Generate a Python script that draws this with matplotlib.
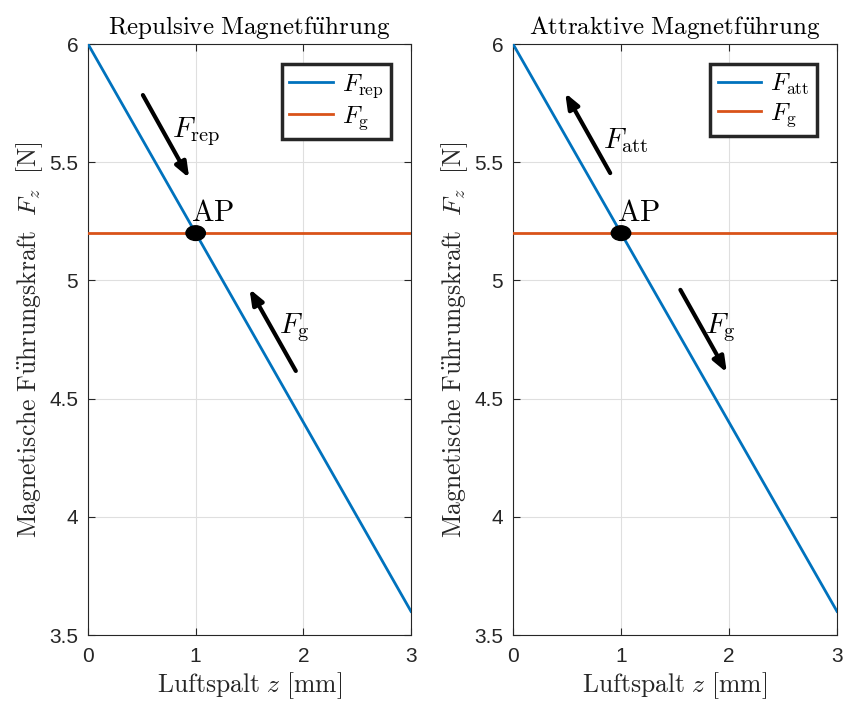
import matplotlib
matplotlib.use("Agg")
import matplotlib.pyplot as plt
from matplotlib.patches import Ellipse

plt.rcParams['mathtext.fontset'] = 'cm'
plt.rcParams['font.family'] = ['Liberation Sans', 'DejaVu Sans']

# Data
z = [0.0, 3.0]
F_rep = [6.0, 3.6]
F_att = [6.0, 3.6]
F_g = [5.2, 5.2]
ap_z, ap_F = 1.0, 5.2
xticks = [0, 1, 2, 3]
yticks = [3.5, 4, 4.5, 5, 5.5, 6]
yticklabels = ['3.5', '4', '4.5', '5', '5.5', '6']

titles = [r'$\mathrm{Repulsive\ Magnetf\ddot{u}hrung}$',
          r'$\mathrm{Attraktive\ Magnetf\ddot{u}hrung}$']
labels_main = [r'$F_\mathrm{rep}$', r'$F_\mathrm{att}$']
labels_g = r'$F_\mathrm{g}$'

# arrows: (tail, head), label position
arrows = [
    [((0.51, 5.784), (0.94, 5.433)), ((1.93, 4.617), (1.50, 4.964))],
    [((0.90, 5.454), (0.483, 5.793)), ((1.55, 4.96), (1.98, 4.61))],
]
arrow_labels = [
    [(0.78, 5.63, labels_main[0]), (1.77, 4.80, labels_g)],
    [(0.83, 5.59, labels_main[1]), (1.78, 4.80, labels_g)],
]

blue = '#0072BD'
orange = '#D95319'

fig = plt.figure(figsize=(8.44, 7.02), dpi=100)
positions = [[88/844, 1-635/702, 323/844, 591/702],
             [513/844, 1-635/702, 324/844, 591/702]]

for i in range(2):
    ax = fig.add_axes(positions[i])
    ax.plot(z, F_rep if i == 0 else F_att, color=blue, lw=2.0, label=labels_main[i], zorder=3)
    ax.plot(z, F_g, color=orange, lw=2.0, label=labels_g, zorder=3)
    ax.set_xlim(0, 3)
    ax.set_ylim(3.5, 6)
    ax.set_xticks(xticks)
    ax.set_yticks(yticks)
    ax.set_yticklabels(yticklabels)
    ax.tick_params(direction='in', length=5, width=0.8, labelsize=15, colors='#262626',
                   top=True, right=True)
    ax.tick_params(axis='x', pad=9)
    ax.tick_params(axis='y', pad=7)
    ax.grid(True, color='#dfdfdf', lw=0.8)
    ax.set_axisbelow(True)
    for s in ax.spines.values():
        s.set_color('#262626')
        s.set_linewidth(0.8)
    ax.set_title(titles[i], fontsize=18, pad=7)
    ax.set_xlabel(r'$\mathrm{Luftspalt}\ z\ \mathrm{[mm]}$', fontsize=18.5, labelpad=3, color='#262626')
    ax.set_ylabel(r'$\mathrm{Magnetische\ F\ddot{u}hrungskraft}\ \ F_z\ \ \mathrm{[N]}$', fontsize=18.5,
                  labelpad=3, color='#262626')
    leg = ax.legend(loc='upper right', fontsize=18, frameon=True, fancybox=False, framealpha=1,
                    handlelength=1.75, borderaxespad=0.8, handletextpad=0.35,
                    borderpad=0.3, labelspacing=0.15)
    leg.get_frame().set_edgecolor('#262626')
    leg.get_frame().set_linewidth(2.5)

    for (tail, head) in arrows[i]:
        ax.annotate('', xy=head, xytext=tail,
                    arrowprops=dict(arrowstyle='-|>,head_length=0.9,head_width=0.35',
                                    color='black', lw=3, shrinkA=0, shrinkB=0), zorder=4)
    for (tx, ty, tl) in arrow_labels[i]:
        ax.text(tx, ty, tl, fontsize=21, va='center', ha='left', zorder=5)

    ax.add_patch(Ellipse((ap_z, ap_F), 0.18, 0.062, color='black', zorder=5))
    ax.text(ap_z - 0.04, ap_F + 0.025, r'$\mathrm{AP}$', fontsize=21.5, ha='left', va='bottom', zorder=5)

fig.savefig('out.png', dpi=100)
